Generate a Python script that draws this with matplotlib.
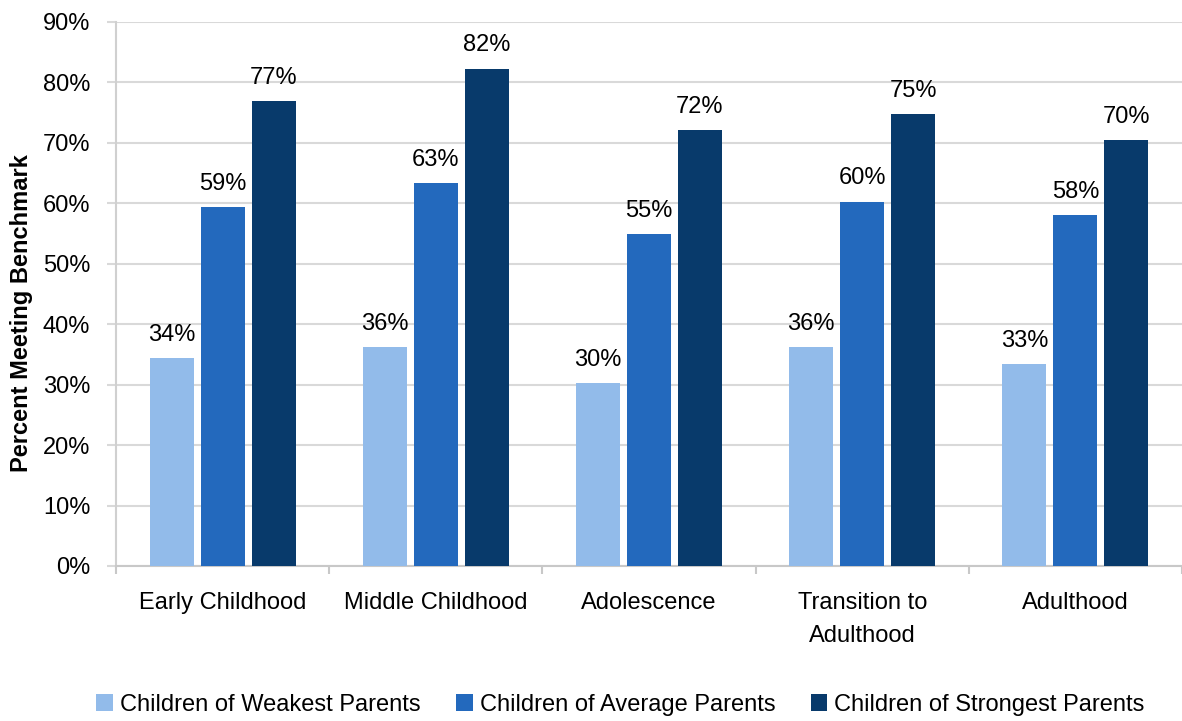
import matplotlib.pyplot as plt
import numpy as np
from matplotlib.ticker import FixedLocator

plt.rcParams['font.family'] = ['Liberation Sans', 'DejaVu Sans']

categories = ['Early Childhood', 'Middle Childhood', 'Adolescence',
              'Transition to\nAdulthood', 'Adulthood']
series_names = ['Children of Weakest Parents', 'Children of Average Parents',
                'Children of Strongest Parents']
weakest = [34.4, 36.2, 30.2, 36.2, 33.4]
average = [59.4, 63.3, 54.9, 60.3, 58.0]
strongest = [76.9, 82.3, 72.1, 74.7, 70.4]
colors = ['#92bbea', '#2369bd', '#083a6b']

fig = plt.figure(figsize=(11.82, 7.21), dpi=100)
ax = fig.add_axes([116 / 1182, 1 - 566 / 721, (1182 - 116) / 1182, (566 - 22) / 721])

x = np.arange(len(categories))
w = 0.206
off = 0.239
for i, (vals, name, c) in enumerate(zip([weakest, average, strongest], series_names, colors)):
    pos = x + (i - 1) * off
    bars = ax.bar(pos, vals, width=w, color=c, label=name, zorder=3)
    for b, v in zip(bars, vals):
        ax.annotate(f'{round(v):.0f}%', (b.get_x() + b.get_width() / 2, v),
                    xytext=(0, 12.5), textcoords='offset points',
                    ha='center', va='baseline', fontsize=17)

ax.set_xlim(-0.5, len(categories) - 0.5)
ax.set_ylim(0, 90)
ax.set_yticks(np.arange(0, 91, 10))
ax.set_yticklabels([f'{t}%' for t in range(0, 91, 10)], fontsize=17)
ax.yaxis.grid(True, color='#d9d9d9', linewidth=1.5, zorder=0)
ax.tick_params(axis='y', length=6.5, width=1.5, color='#d9d9d9', pad=12)

ax.set_xticks(x)
ax.set_xticklabels(categories, fontsize=17, linespacing=1.6)
ax.xaxis.set_minor_locator(FixedLocator(np.arange(-0.5, len(categories), 1.0)))
ax.tick_params(axis='x', which='major', length=0, pad=19)
ax.tick_params(axis='x', which='minor', length=6, width=1.5, color='#c8c8c8')

for s in ['top', 'right']:
    ax.spines[s].set_visible(False)
ax.spines['left'].set_color('#d0d0d0')
ax.spines['bottom'].set_color('#c8c8c8')
ax.spines['left'].set_linewidth(1.5)
ax.spines['bottom'].set_linewidth(1.5)

ax.set_ylabel('Percent Meeting Benchmark', fontsize=17, fontweight='bold')
ax.yaxis.set_label_coords(-0.078, 0.465)

fig.legend(loc='center', bbox_to_anchor=(0.525, 1 - 705 / 721), ncol=3, frameon=False,
           fontsize=17, handlelength=0.7, handleheight=0.7, handletextpad=0.3,
           columnspacing=1.5)

fig.savefig('out.png', dpi=100)
